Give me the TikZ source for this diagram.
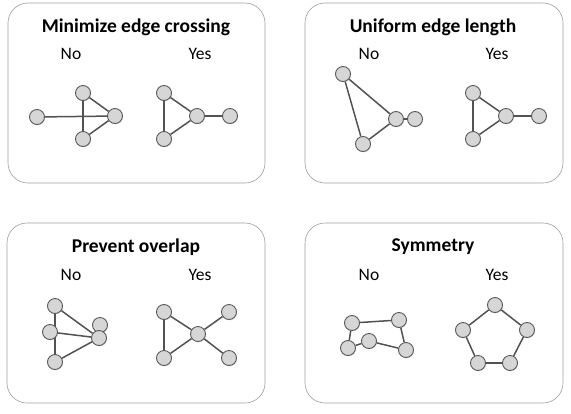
\documentclass[tikz,border=0pt]{standalone}
\usepackage{fontspec}
\setmainfont{Carlito}
\usetikzlibrary{shadows}

\begin{document}
\begin{tikzpicture}[x=1pt,y=-1pt]
      \tikzstyle{node}=[circle,draw=black!65,fill=black!16,line width=0.9pt,minimum size=15pt,inner sep=0pt,
        drop shadow={shadow xshift=0.6pt,shadow yshift=-0.9pt,opacity=0.25}]
      \tikzstyle{panel}=[draw=black!38,line width=0.6pt,rounded corners=20pt]
      \tikzstyle{title}=[font=\fontsize{19.5}{22}\selectfont\bfseries]
      \tikzstyle{label}=[font=\fontsize{17.5}{20}\selectfont]
      \tikzstyle{every edge}=[draw=black!68,line width=1.5pt]

      \useasboundingbox (0,0) rectangle (571,413);

      % minimize edge crossing
      \draw[panel] (8,3) rectangle (265,183);
      \node[title] (t1) at (136,27) {Minimize edge crossing};
      \node[label] (n1) at (71,54) {No};
      \node[label] (y1) at (200,54) {Yes};

      \begin{scope}
        \node[node](x1) at (37,117){};
        \node[node](x2) at (83,93){};
        \node[node](x3) at (115,116){};
        \node[node](x4) at (83,139){};
        \path
        (x1) edge (x3)
        (x2) edge (x4)
        (x2) edge (x3)
        (x4) edge (x3);
      \end{scope}

      \begin{scope}
        \node[node](x1) at (164,93){};
        \node[node](x2) at (164,139){};
        \node[node](f) at (197,116){};
        \node[node](x3) at (230,116){};
        \path
        (x1) edge (x2)
        (x1) edge (f)
        (x2) edge (f)
        (f) edge (x3);
      \end{scope}

      % uniform edge length
      \draw[panel] (305,3) rectangle (563,183);
      \node[title] (t2) at (433,27) {Uniform edge length};
      \node[label] (n2) at (369,54) {No};
      \node[label] (y2) at (497,54) {Yes};

      \begin{scope}
        \node[node](x1) at (343,74){};
        \node[node](f) at (396,119){};
        \node[node](x2) at (415,119){};
        \node[node](x3) at (363,144){};
        \path
        (x1) edge (f)
        (x1) edge (x3)
        (x3) edge (f)
        (f) edge (x2);
      \end{scope}

      \begin{scope}
        \node[node](x1) at (473,93){};
        \node[node](x2) at (473,139){};
        \node[node](f) at (506,116){};
        \node[node](x3) at (539,116){};
        \path
        (x1) edge (x2)
        (x1) edge (f)
        (x2) edge (f)
        (f) edge (x3);
      \end{scope}

      % prevent overlap
      \draw[panel] (7,223) rectangle (265,403);
      \node[title] (t3) at (136,247) {Prevent overlap};
      \node[label] (n3) at (71,275) {No};
      \node[label] (y3) at (200,275) {Yes};

      \begin{scope}
        \node[node](x1) at (55,306){};
        \node[node](x2) at (55,362){};
        \path (x1) edge (x2);
        \node[node](x3) at (50,332){};
        \node[node](x4) at (100,325){};
        \node[node](f) at (99,338){};
        \path
        (x1) edge (f)
        (x3) edge (f)
        (x2) edge (f);
      \end{scope}

      \begin{scope}
        \node[node](x1) at (164,312){};
        \node[node](x2) at (164,358){};
        \node[node](f) at (198,334){};
        \node[node](x3) at (229,312){};
        \node[node](x4) at (229,358){};
        \path
        (x1) edge (x2)
        (x1) edge (f)
        (x2) edge (f)
        (f) edge (x3)
        (f) edge (x4);
      \end{scope}

      % symmetry
      \draw[panel] (305,223) rectangle (563,403);
      \node[title] (t4) at (433,247) {Symmetry};
      \node[label] (n4) at (369,275) {No};
      \node[label] (y4) at (497,275) {Yes};

      \begin{scope}
        \node[node](x1) at (352,323){};
        \node[node](x2) at (399,320){};
        \node[node](x3) at (406,350){};
        \node[node](x4) at (369,341){};
        \node[node](x5) at (348,348){};
        \path
        (x1) edge (x2)
        (x2) edge (x3)
        (x3) edge (x4)
        (x4) edge (x5)
        (x5) edge (x1);
      \end{scope}

      \begin{scope}
        \node[node](x1) at (495,305){};
        \node[node](x2) at (527,330){};
        \node[node](x3) at (510,363){};
        \node[node](x4) at (478,363){};
        \node[node](x5) at (463,330){};
        \path
        (x1) edge (x2)
        (x2) edge (x3)
        (x3) edge (x4)
        (x4) edge (x5)
        (x5) edge (x1);
      \end{scope}
    \end{tikzpicture}
\end{document}
